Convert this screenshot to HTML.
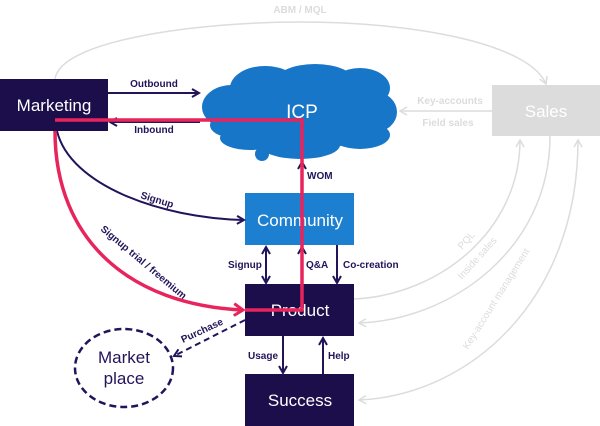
<!DOCTYPE html>
<html><head><meta charset="utf-8"><style>
html,body{margin:0;padding:0;background:#fff;}
svg{display:block;font-family:"Liberation Sans",sans-serif;}
</style></head><body>
<svg width="600" height="426" viewBox="0 0 600 426" xmlns="http://www.w3.org/2000/svg">
<defs>
<marker id="ad" markerWidth="10" markerHeight="10" refX="8" refY="5" orient="auto" markerUnits="userSpaceOnUse"><path d="M1,1 L8,5 L1,9" fill="none" stroke="#23145a" stroke-width="2"/></marker>
<marker id="ads" markerWidth="10" markerHeight="10" refX="2" refY="5" orient="auto" markerUnits="userSpaceOnUse"><path d="M9,1 L2,5 L9,9" fill="none" stroke="#23145a" stroke-width="2"/></marker>
<marker id="ag" markerWidth="10" markerHeight="10" refX="8" refY="5" orient="auto" markerUnits="userSpaceOnUse"><path d="M1,1 L8,5 L1,9" fill="none" stroke="#dcdcdc" stroke-width="1.5"/></marker>
<marker id="ags" markerWidth="10" markerHeight="10" refX="2" refY="5" orient="auto" markerUnits="userSpaceOnUse"><path d="M9,1 L2,5 L9,9" fill="none" stroke="#dcdcdc" stroke-width="1.5"/></marker>
<marker id="ar" markerWidth="14" markerHeight="14" refX="11" refY="7" orient="auto" markerUnits="userSpaceOnUse"><path d="M2,1 L11,7 L2,13" fill="none" stroke="#e8245c" stroke-width="3"/></marker>
</defs>
<g fill="none" stroke="#dcdcdc" stroke-width="1.5">
<path d="M55,79 C60,40 200,22 300,22 C420,22 530,45 546,84" marker-end="url(#ag)"/>
<path d="M492,111 L400,111" marker-end="url(#ag)"/>
<path d="M354,299 C440,295 520,230 520,140" marker-end="url(#ag)"/>
<path d="M550,136 C550,250 450,320 359,323" marker-end="url(#ag)"/>
<path d="M578,140 C578,300 470,395 359,400" marker-start="url(#ags)" marker-end="url(#ag)"/>
</g>
<g fill="#dcdcdc" font-size="10" font-weight="bold">
<text x="300" y="13" text-anchor="middle">ABM / MQL</text>
<text x="450" y="104" text-anchor="middle">Key-accounts</text>
<text x="448" y="126" text-anchor="middle">Field sales</text>
<text x="462" y="250" transform="rotate(-48 462 250)" font-weight="normal">PQL</text>
<text x="462" y="280" transform="rotate(-48 462 280)" font-weight="normal">Inside sales</text>
<text x="468" y="350" transform="rotate(-58 468 350)" font-weight="normal">Key-account management</text>
</g>
<g fill="#1876c8">
<ellipse cx="300" cy="112" rx="90" ry="38"/>
<ellipse cx="232" cy="107" rx="30" ry="22"/>
<ellipse cx="265" cy="88" rx="35" ry="22"/>
<ellipse cx="315" cy="82" rx="40" ry="18"/>
<ellipse cx="360" cy="88" rx="30" ry="20"/>
<ellipse cx="375" cy="112" rx="22" ry="20"/>
<ellipse cx="360" cy="135" rx="30" ry="14"/>
<ellipse cx="300" cy="145" rx="40" ry="14"/>
<ellipse cx="250" cy="138" rx="30" ry="12"/>
<circle cx="262" cy="154" r="7"/>
<ellipse cx="230" cy="125" rx="20" ry="12"/>
</g>
<text x="302" y="118" fill="#fff" font-size="19" text-anchor="middle">ICP</text>
<rect x="0" y="79" width="108" height="52" fill="#1c0e4a"/>
<text x="54" y="111" fill="#fff" font-size="17" text-anchor="middle">Marketing</text>
<rect x="492" y="85" width="108" height="51" fill="#dcdcdc"/>
<text x="546" y="117" fill="#fff" font-size="17" text-anchor="middle">Sales</text>
<rect x="245" y="193" width="109" height="52" fill="#1d7fd0"/>
<text x="300" y="226" fill="#fff" font-size="17" text-anchor="middle">Community</text>
<rect x="245" y="284" width="109" height="52" fill="#1c0e4a"/>
<text x="300" y="316" fill="#fff" font-size="17" text-anchor="middle">Product</text>
<rect x="245" y="374" width="109" height="52" fill="#1c0e4a"/>
<text x="300" y="406" fill="#fff" font-size="17" text-anchor="middle">Success</text>
<ellipse cx="124" cy="368" rx="49" ry="39" fill="none" stroke="#23145a" stroke-width="2.5" stroke-dasharray="7,4"/>
<text x="124" y="363" fill="#23145a" font-size="17" text-anchor="middle">Market</text>
<text x="124" y="384" fill="#23145a" font-size="17" text-anchor="middle">place</text>
<g fill="none" stroke="#23145a" stroke-width="2">
<path d="M108,93 L199,93" marker-end="url(#ad)"/>
<path d="M200,122 L110,122" marker-end="url(#ad)"/>
<path d="M57,131 C70,185 160,218 244,220" marker-end="url(#ad)"/>
<path d="M266,247 L266,283" marker-start="url(#ads)" marker-end="url(#ad)"/>
<path d="M302,284 L302,247" marker-end="url(#ad)"/>
<path d="M302,193 L302,162" marker-end="url(#ad)"/>
<path d="M337,245 L337,283" marker-end="url(#ad)"/>
<path d="M283,336 L283,373" marker-end="url(#ad)"/>
<path d="M323,374 L323,338" marker-end="url(#ad)"/>
<path d="M245,320 L174,356" stroke-dasharray="6,4" marker-end="url(#ad)"/>
</g>
<g fill="#23145a" font-size="10" font-weight="bold">
<text x="154" y="87" text-anchor="middle">Outbound</text>
<text x="154" y="133" text-anchor="middle">Inbound</text>
<text x="140" y="198" transform="rotate(17 140 198)">Signup</text>
<text x="100" y="230" transform="rotate(40 100 230)">Signup trial / freemium</text>
<text x="228" y="268">Signup</text>
<text x="306" y="268">Q&amp;A</text>
<text x="343" y="268">Co-creation</text>
<text x="307" y="179">WOM</text>
<text x="248" y="359">Usage</text>
<text x="328" y="359">Help</text>
<text x="183" y="343" transform="rotate(-25 183 343)">Purchase</text>
</g>
<g fill="none" stroke="#e8245c" stroke-width="3.5">
<path d="M55,120 L302,120 L302,310 L245,310"/>
<path d="M55,131 C55,240 130,305 243,310" marker-end="url(#ar)"/>
</g>
</svg>
</body></html>
